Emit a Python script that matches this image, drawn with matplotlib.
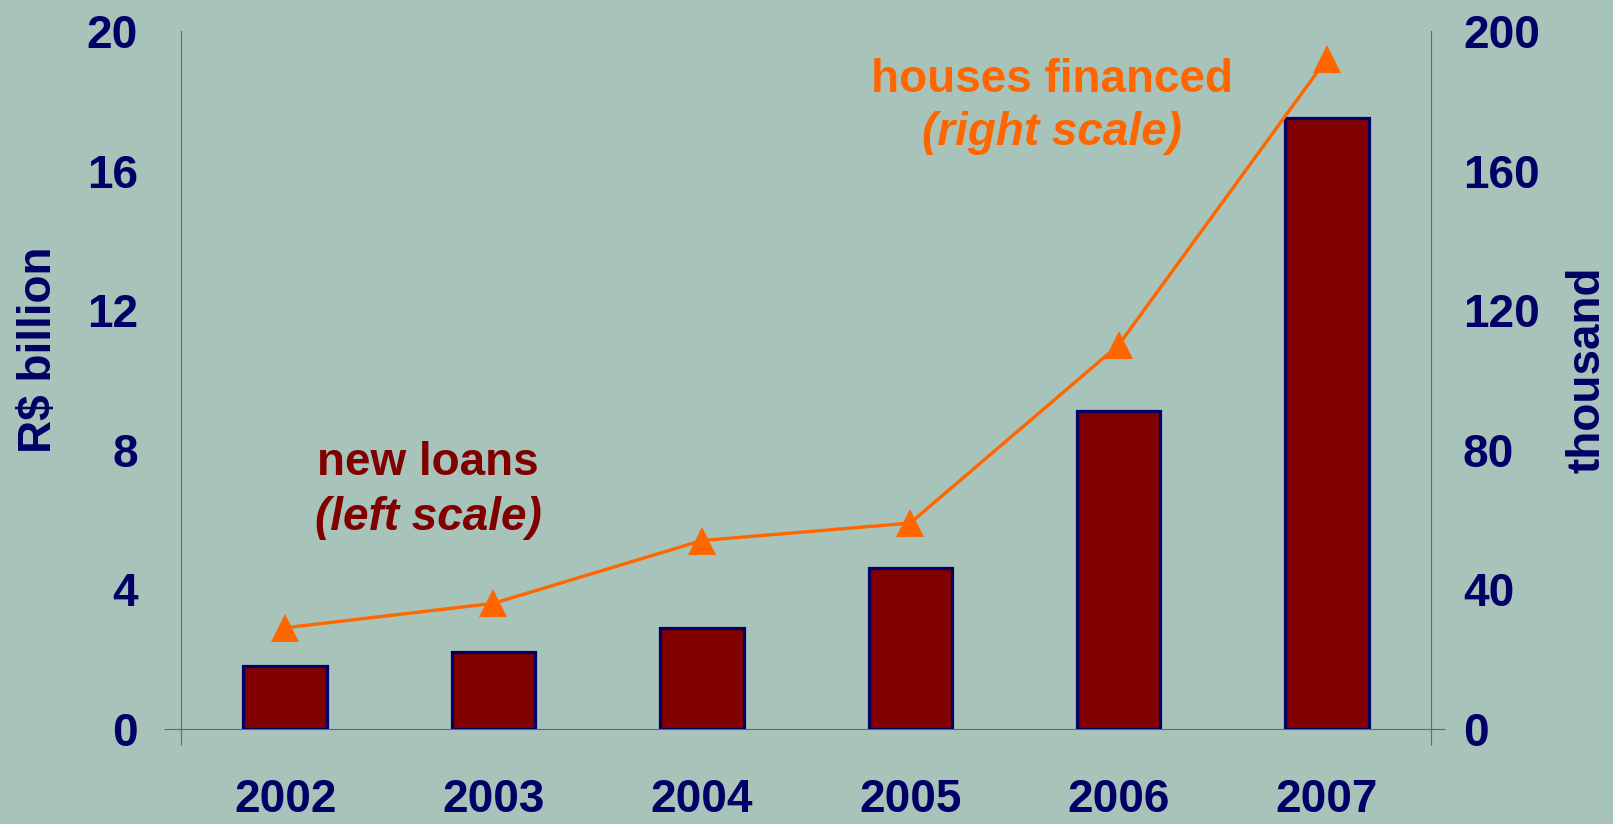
import matplotlib
matplotlib.use("Agg")
import matplotlib.pyplot as plt
import numpy as np

years = ["2002", "2003", "2004", "2005", "2006", "2007"]
new_loans = [1.8, 2.2, 2.9, 4.6, 9.1, 17.5]          # R$ billion, left scale
houses_financed = [29, 36, 54, 59, 110, 192]          # thousand, right scale

bg = "#a8c3ba"
navy = "#000066"
maroon = "#800000"
orange = "#ff6600"
axis_col = "#5565a0"

plt.rcParams["font.family"] = ["Liberation Sans", "DejaVu Sans"]
plt.rcParams["font.weight"] = "bold"

fig = plt.figure(figsize=(16.13, 8.24), dpi=100, facecolor=bg)
ax = fig.add_axes([0.1122, 0.1153, 0.775, 0.8471])
ax.set_facecolor("none")
ax2 = ax.twinx()

x = np.arange(len(years))
ax.bar(x, new_loans, width=0.4, color=maroon, edgecolor=navy, linewidth=2.3, zorder=3)
ax2.plot(x, houses_financed, color=orange, linewidth=2.4, marker="^", markersize=20,
         markeredgewidth=0, zorder=4)

ax.set_xlim(-0.5, 5.5)
ax.set_ylim(0, 20)
ax2.set_ylim(0, 200)

# keep the small "cross" marks at the zero line
ax.yaxis.remove_overlapping_locs = False
ax2.yaxis.remove_overlapping_locs = False

ax.set_xticks(x)
ax.set_xticklabels(years)
ax.set_xticks([-0.5, 5.5], minor=True)
ax.set_yticks(range(0, 21, 4))
ax.set_yticks([0], minor=True)
ax2.set_yticks(range(0, 201, 40))
ax2.set_yticks([0], minor=True)

ax.tick_params(axis="x", which="major", length=0, pad=35, labelsize=33, labelcolor=navy)
ax.tick_params(axis="y", which="major", length=0, pad=31, labelsize=33, labelcolor=navy)
ax2.tick_params(axis="y", which="major", length=0, pad=23, labelsize=33, labelcolor=navy)
ax.tick_params(axis="x", which="minor", length=11.5, width=0.8, direction="out", color=axis_col)
ax.tick_params(axis="y", which="minor", length=12, width=0.8, direction="out", color=axis_col)
ax2.tick_params(axis="y", which="minor", length=10, width=0.8, direction="out", color=axis_col)

for lab in ax.get_xticklabels() + ax.get_yticklabels() + ax2.get_yticklabels():
    lab.set_fontweight("bold")

for a in (ax, ax2):
    a.spines["top"].set_visible(False)
ax.spines["right"].set_visible(False)
ax2.spines["left"].set_visible(False)
ax2.spines["bottom"].set_visible(False)
for s in (ax.spines["left"], ax.spines["bottom"], ax2.spines["right"]):
    s.set_color(axis_col)
    s.set_linewidth(0.8)

# series annotations
ax.text(3.68, 18.25, "houses financed", color=orange, fontsize=33, fontweight="bold",
        ha="center", va="baseline", zorder=5)
ax.text(3.68, 16.73, "(right scale)", color=orange, fontsize=33, fontweight="bold",
        fontstyle="italic", ha="center", va="baseline", zorder=5)
ax.text(0.686, 7.28, "new loans", color=maroon, fontsize=33, fontweight="bold",
        ha="center", va="baseline", zorder=5)
ax.text(0.686, 5.70, "(left scale)", color=maroon, fontsize=33, fontweight="bold",
        fontstyle="italic", ha="center", va="baseline", zorder=5)

fig.text(0.0242, 0.575, "R$ billion", rotation=90, color=navy, fontsize=33,
         fontweight="bold", ha="center", va="center")
fig.text(0.984, 0.551, "thousand", rotation=90, color=navy, fontsize=33,
         fontweight="bold", ha="center", va="center")

fig.savefig("out.png", dpi=100, facecolor=bg)
